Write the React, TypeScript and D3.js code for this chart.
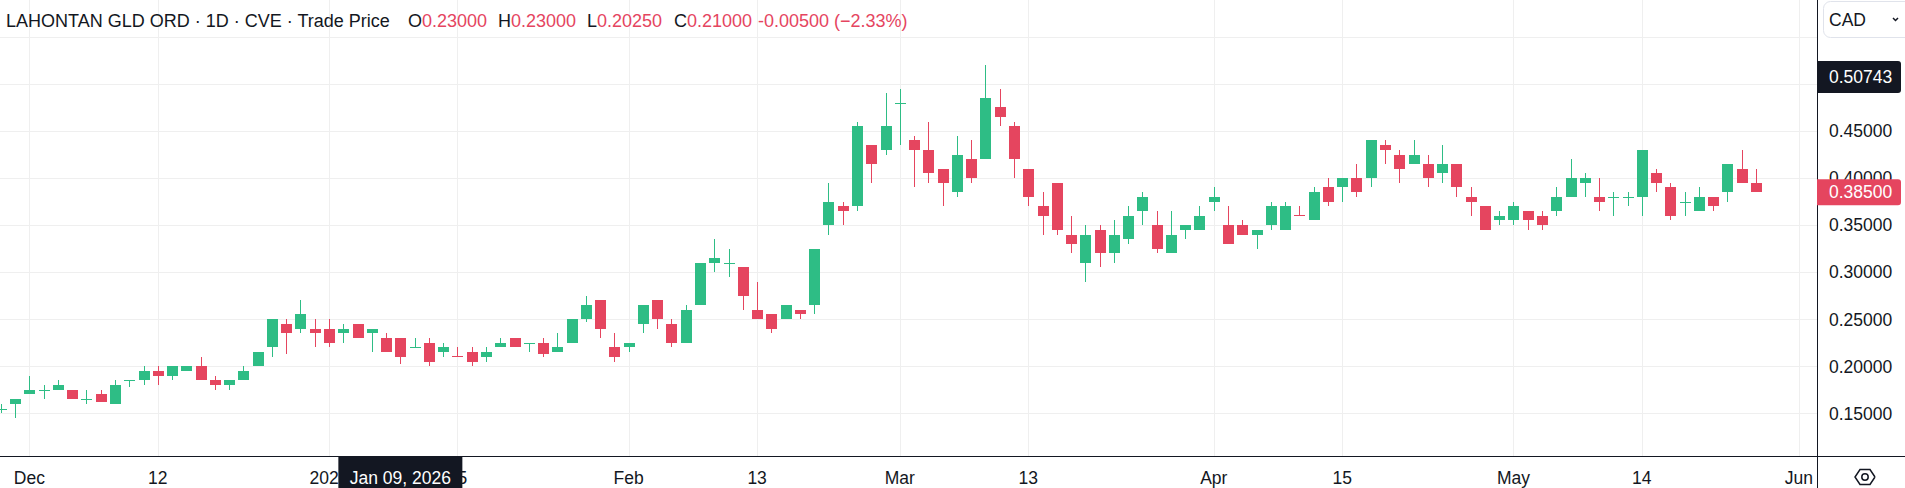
import React from 'react';
import * as d3 from 'd3';

// trading sessions (TSX-V), incl. the three empty future slots up to Jun 1
const tradingDays: [string, number[]][] = [
  ['2025-11', [27, 28]],
  ['2025-12', [1, 2, 3, 4, 5, 8, 9, 10, 11, 12, 15, 16, 17, 18, 19, 22, 23, 24, 29, 30, 31]],
  ['2026-01', [2, 5, 6, 7, 8, 9, 12, 13, 14, 15, 16, 19, 20, 21, 22, 23, 26, 27, 28, 29, 30]],
  ['2026-02', [2, 3, 4, 5, 6, 9, 10, 11, 12, 13, 17, 18, 19, 20, 23, 24, 25, 26, 27]],
  ['2026-03', [2, 3, 4, 5, 6, 9, 10, 11, 12, 13, 16, 17, 18, 19, 20, 23, 24, 25, 26, 27, 30, 31]],
  ['2026-04', [1, 2, 6, 7, 8, 9, 10, 13, 14, 15, 16, 17, 20, 21, 22, 23, 24, 27, 28, 29, 30]],
  ['2026-05', [1, 4, 5, 6, 7, 8, 11, 12, 13, 14, 15, 19, 20, 21, 22, 25, 26, 27, 28, 29]],
  ['2026-06', [1]],
];

const open = [
  0.155, 0.16, 0.17, 0.175, 0.175, 0.175, 0.165, 0.17, 0.16, 0.185,
  0.185, 0.195, 0.19, 0.195, 0.2, 0.185, 0.18, 0.185, 0.2, 0.22,
  0.245, 0.24, 0.24, 0.24, 0.235, 0.245, 0.235, 0.23, 0.23, 0.22,
  0.225, 0.215, 0.2105, 0.215, 0.21, 0.22, 0.23, 0.225, 0.225, 0.215,
  0.225, 0.25, 0.27, 0.22, 0.22, 0.245, 0.27, 0.245, 0.225, 0.265,
  0.31, 0.31, 0.305, 0.26, 0.255, 0.25, 0.26, 0.265, 0.35, 0.37,
  0.37, 0.435, 0.43, 0.48, 0.44, 0.43, 0.41, 0.385, 0.42, 0.42,
  0.475, 0.455, 0.41, 0.37, 0.395, 0.34, 0.31, 0.345, 0.32, 0.335,
  0.365, 0.35, 0.32, 0.345, 0.345, 0.375, 0.35, 0.35, 0.34, 0.35,
  0.345, 0.3605, 0.355, 0.39, 0.39, 0.4, 0.4, 0.435, 0.425, 0.415,
  0.415, 0.405, 0.415, 0.38, 0.37, 0.355, 0.355, 0.365, 0.36, 0.365,
  0.38, 0.395, 0.38, 0.38, 0.38, 0.38, 0.405, 0.39, 0.375, 0.365,
  0.38, 0.385, 0.41, 0.395,
];
const high = [
  0.16, 0.165, 0.19, 0.18, 0.185, 0.175, 0.175, 0.175, 0.185, 0.185,
  0.2, 0.2, 0.2, 0.2, 0.21, 0.19, 0.185, 0.2, 0.215, 0.25,
  0.25, 0.27, 0.25, 0.25, 0.245, 0.245, 0.24, 0.235, 0.23, 0.23,
  0.23, 0.225, 0.22, 0.22, 0.22, 0.23, 0.23, 0.225, 0.23, 0.235,
  0.25, 0.275, 0.27, 0.235, 0.225, 0.265, 0.27, 0.25, 0.265, 0.31,
  0.335, 0.325, 0.305, 0.29, 0.255, 0.265, 0.26, 0.325, 0.395, 0.375,
  0.46, 0.435, 0.49, 0.495, 0.445, 0.46, 0.41, 0.445, 0.44, 0.52,
  0.495, 0.46, 0.41, 0.385, 0.395, 0.36, 0.35, 0.35, 0.355, 0.37,
  0.385, 0.365, 0.365, 0.35, 0.37, 0.39, 0.37, 0.355, 0.345, 0.375,
  0.375, 0.37, 0.39, 0.4, 0.4, 0.415, 0.44, 0.44, 0.43, 0.44,
  0.425, 0.435, 0.415, 0.39, 0.37, 0.365, 0.375, 0.365, 0.365, 0.39,
  0.42, 0.405, 0.4, 0.385, 0.385, 0.43, 0.41, 0.395, 0.385, 0.39,
  0.38, 0.415, 0.43, 0.41,
];
const low = [
  0.15, 0.145, 0.17, 0.165, 0.175, 0.165, 0.16, 0.1625, 0.16, 0.1775,
  0.18, 0.18, 0.185, 0.195, 0.185, 0.175, 0.175, 0.185, 0.2, 0.21,
  0.2125, 0.235, 0.22, 0.22, 0.225, 0.23, 0.215, 0.215, 0.2025, 0.22,
  0.2, 0.21, 0.21, 0.2, 0.205, 0.22, 0.22, 0.215, 0.21, 0.215,
  0.225, 0.2475, 0.23, 0.205, 0.215, 0.235, 0.24, 0.22, 0.225, 0.265,
  0.3, 0.295, 0.26, 0.25, 0.235, 0.25, 0.25, 0.255, 0.34, 0.35,
  0.365, 0.395, 0.425, 0.435, 0.39, 0.395, 0.37, 0.38, 0.395, 0.42,
  0.455, 0.4, 0.37, 0.34, 0.34, 0.32, 0.29, 0.305, 0.31, 0.33,
  0.35, 0.32, 0.32, 0.335, 0.345, 0.365, 0.33, 0.34, 0.325, 0.345,
  0.345, 0.36, 0.355, 0.37, 0.375, 0.38, 0.39, 0.415, 0.395, 0.415,
  0.39, 0.395, 0.38, 0.36, 0.345, 0.35, 0.35, 0.345, 0.345, 0.36,
  0.38, 0.38, 0.365, 0.36, 0.37, 0.36, 0.385, 0.355, 0.36, 0.365,
  0.365, 0.375, 0.395, 0.385,
];
const close = [
  0.155, 0.165, 0.175, 0.175, 0.18, 0.165, 0.165, 0.1625, 0.18, 0.185,
  0.195, 0.19, 0.2, 0.2, 0.185, 0.18, 0.185, 0.195, 0.215, 0.25,
  0.235, 0.255, 0.235, 0.225, 0.24, 0.23, 0.24, 0.215, 0.21, 0.22,
  0.205, 0.22, 0.21, 0.205, 0.215, 0.225, 0.22, 0.225, 0.2125, 0.22,
  0.25, 0.265, 0.24, 0.21, 0.225, 0.265, 0.25, 0.225, 0.26, 0.31,
  0.315, 0.31, 0.275, 0.25, 0.24, 0.265, 0.255, 0.325, 0.375, 0.365,
  0.455, 0.415, 0.455, 0.48, 0.43, 0.405, 0.395, 0.425, 0.4, 0.485,
  0.465, 0.42, 0.38, 0.36, 0.345, 0.33, 0.34, 0.32, 0.34, 0.36,
  0.38, 0.325, 0.34, 0.35, 0.36, 0.38, 0.33, 0.34, 0.345, 0.37,
  0.37, 0.36, 0.385, 0.375, 0.4, 0.385, 0.44, 0.43, 0.41, 0.425,
  0.4, 0.415, 0.39, 0.375, 0.345, 0.36, 0.37, 0.355, 0.35, 0.38,
  0.4, 0.4, 0.375, 0.38, 0.38, 0.43, 0.395, 0.36, 0.375, 0.38,
  0.37, 0.415, 0.395, 0.385,
];

const priceTicks = [0.15, 0.2, 0.25, 0.3, 0.35, 0.4, 0.45, 0.5, 0.55];
const tickDates = [
  '2025-12-01', '2025-12-12', '2026-01-02', '2026-01-15', '2026-02-02', '2026-02-13', '2026-03-02',
  '2026-03-13', '2026-04-01', '2026-04-15', '2026-05-01', '2026-05-14', '2026-06-01',
];
const tickLabels = ['Dec', '12', '2026', '15', 'Feb', '13', 'Mar', '13', 'Apr', '15', 'May', '14', 'Jun'];

const hoverDate = '2026-01-09';
const crosshairPrice = 0.50743;
const title = 'LAHONTAN GLD ORD · 1D · CVE · Trade Price';
const currency = 'CAD';

const UP = '#2ebd85';
const DOWN = '#e5455f';
const INK = '#131722';
const GRID = '#efefef';
const FONT = '"Liberation Sans", Arial, sans-serif';

const W = 1905;
const H = 488;
const plotRight = 1817;
const plotBottom = 456;

const slots = tradingDays.flatMap(([m, ds]) => ds.map((d) => `${m}-${String(d).padStart(2, '0')}`));
const candles = close.map((c, i) => ({ date: slots[i], o: open[i], h: high[i], l: low[i], c }));

export default function App() {
  const step = 14.27;
  const x = d3.scalePoint<string>().domain(slots).range([0.8, 0.8 + (slots.length - 1) * step]);
  const y = d3.scaleLinear().domain([0.15, 0.45]).range([413.3, 131]);
  const bodyW = 11;

  const f5 = d3.format('.5f');
  const hi = slots.indexOf(hoverDate);
  const hc = candles[hi];
  const chg = hc.c - candles[hi - 1].c;
  const pct = (chg / candles[hi - 1].c) * 100;
  const valColor = hc.c >= hc.o ? UP : DOWN;
  const hoverLabel = d3.timeFormat('%b %d, %Y')(d3.timeParse('%Y-%m-%d')(hoverDate)!);

  const last = candles[candles.length - 1];
  const lastColor = last.c >= last.o ? UP : DOWN;

  // labels that sit under the crosshair price tag are not drawn
  const axisTicks = priceTicks.filter((p) => Math.abs(y(p) - y(crosshairPrice)) > 12 && y(p) > 45);

  return (
    <svg
      width={W}
      height={H}
      style={{ position: 'absolute', left: 0, top: 0, background: '#fff' }}
      fontFamily={FONT}
    >
      <defs>
        <clipPath id="plot">
          <rect x={0} y={0} width={plotRight} height={plotBottom} />
        </clipPath>
      </defs>

      {/* grid */}
      <g shapeRendering="crispEdges">
        {priceTicks.map((p) => (
          <line key={p} x1={0} x2={plotRight} y1={Math.round(y(p)) + 0.5} y2={Math.round(y(p)) + 0.5} stroke={GRID} />
        ))}
        {tickDates.map((d) => (
          <line key={d} x1={Math.round(x(d)!) + 0.5} x2={Math.round(x(d)!) + 0.5} y1={0} y2={plotBottom} stroke={GRID} />
        ))}
      </g>

      {/* candles */}
      <g clipPath="url(#plot)" shapeRendering="crispEdges">
        {candles.map((d) => {
          const cx = Math.round(x(d.date)!);
          const col = d.c >= d.o ? UP : DOWN;
          const top = Math.round(y(Math.max(d.o, d.c)));
          const bot = Math.round(y(Math.min(d.o, d.c)));
          return (
            <g key={d.date}>
              <line x1={cx + 0.5} x2={cx + 0.5} y1={Math.round(y(d.h))} y2={Math.round(y(d.l))} stroke={col} />
              <rect x={cx - 5} y={top} width={bodyW} height={Math.max(1, bot - top)} fill={col} />
            </g>
          );
        })}
      </g>

      {/* header legend */}
      <g fontSize={18} fill={INK}>
        <text x={6} y={27}>{title}</text>
        <text x={408} y={27}>O<tspan fill={valColor}>{f5(hc.o)}</tspan></text>
        <text x={498} y={27}>H<tspan fill={valColor}>{f5(hc.h)}</tspan></text>
        <text x={587} y={27}>L<tspan fill={valColor}>{f5(hc.l)}</tspan></text>
        <text x={674} y={27}>C<tspan fill={valColor}>{f5(hc.c)}</tspan></text>
        <text x={758} y={27} fill={valColor}>
          {f5(chg).replace('−', '-')} ({d3.format('.2f')(pct)}%)
        </text>
      </g>

      {/* axes frame */}
      <g shapeRendering="crispEdges" stroke={INK}>
        <line x1={plotRight + 0.5} x2={plotRight + 0.5} y1={0} y2={H} />
        <line x1={0} x2={W} y1={plotBottom + 0.5} y2={plotBottom + 0.5} />
      </g>

      {/* price axis labels */}
      <g fontSize={17.5} fill={INK}>
        {axisTicks.map((p) => (
          <text key={p} x={1829} y={y(p)} dy="0.36em">{f5(p)}</text>
        ))}
      </g>

      {/* time axis labels */}
      <g fontSize={17.5} fill={INK} textAnchor="middle">
        {tickDates.map((d, i) => (
          <text key={d} x={x(d)} y={484}>{tickLabels[i]}</text>
        ))}
      </g>

      {/* currency button */}
      <rect x={1823.5} y={1.5} width={100} height={36} rx={7} fill="#fff" stroke="#e0e3eb" />
      <text x={1829} y={20} dy="0.36em" fontSize={17.5} fill={INK}>{currency}</text>
      <polyline points="1893,18 1895.5,20.5 1898,18" fill="none" stroke={INK} strokeWidth={1.5} />

      {/* crosshair price label */}
      <path
        d={`M${plotRight},${y(crosshairPrice) - 16} h81 a3,3 0 0 1 3,3 v26 a3,3 0 0 1 -3,3 h-81 z`}
        fill={INK}
      />
      <text x={1829} y={y(crosshairPrice)} dy="0.36em" fontSize={17.5} fill="#fff">{f5(crosshairPrice)}</text>

      {/* last price label */}
      <path
        d={`M${plotRight},${y(last.c) - 13} h81 a3,3 0 0 1 3,3 v20 a3,3 0 0 1 -3,3 h-81 z`}
        fill={lastColor}
      />
      <text x={1829} y={y(last.c)} dy="0.36em" fontSize={17.5} fill="#fff">{f5(last.c)}</text>

      {/* crosshair time label */}
      <rect x={x(hoverDate)! - 62} y={plotBottom + 1} width={124} height={H - plotBottom - 1} fill={INK} />
      <text x={x(hoverDate)} y={484} textAnchor="middle" fontSize={17.5} fill="#fff">{hoverLabel}</text>

      {/* settings icon */}
      <g fill="none" stroke={INK} strokeWidth={1.5}>
        <path d={d3.line()(d3.range(7).map((i) => {
          const a = (Math.PI / 3) * i;
          return [1865 + 10 * Math.cos(a), 477 + 8.7 * Math.sin(a)] as [number, number];
        }))!} />
        <circle cx={1865} cy={477} r={3.2} />
      </g>
    </svg>
  );
}
